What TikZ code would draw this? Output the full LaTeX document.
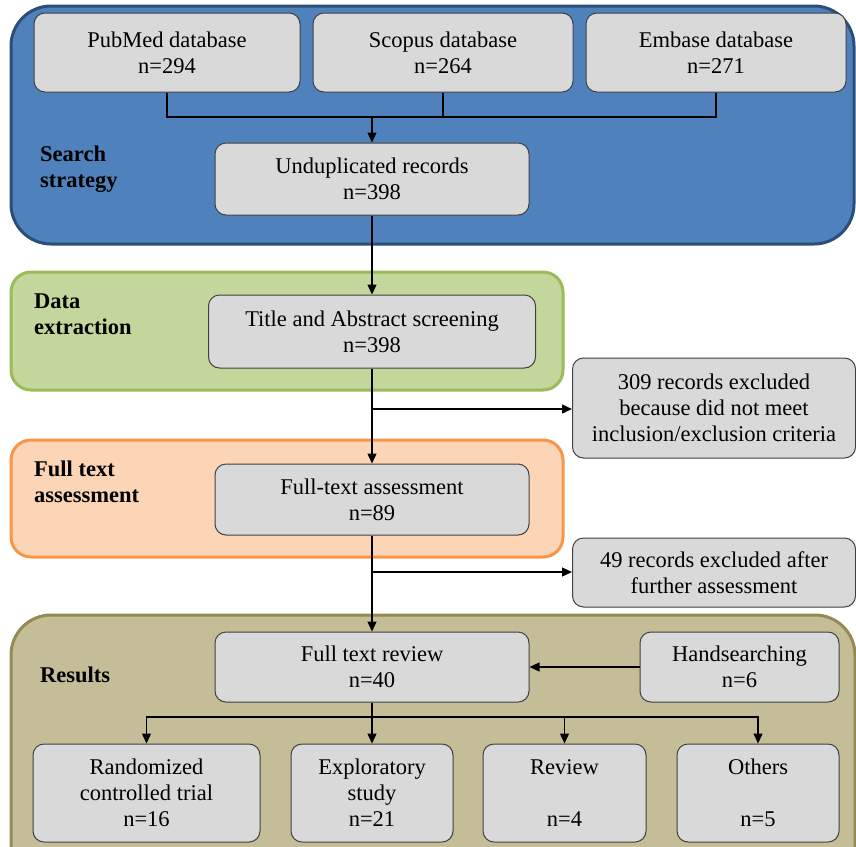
\documentclass[tikz,border=0pt]{standalone}
\usepackage{fontspec}
\IfFontExistsTF{LiberationSerif-Regular.ttf}{%
  \setmainfont{LiberationSerif}[Extension=.ttf,UprightFont=*-Regular,BoldFont=*-Bold,ItalicFont=*-Italic,BoldItalicFont=*-BoldItalic]}{%
  \setmainfont{Liberation Serif}}
\usetikzlibrary{arrows.meta}
\definecolor{bluefill}{HTML}{4F81BD}
\definecolor{blueline}{HTML}{2C4D75}
\definecolor{greenfill}{HTML}{C3D69B}
\definecolor{greenline}{HTML}{9BBB59}
\definecolor{orangefill}{HTML}{FBD5B5}
\definecolor{orangeline}{HTML}{F79646}
\definecolor{olivefill}{HTML}{C4BD97}
\definecolor{oliveline}{HTML}{948A54}
\definecolor{boxfill}{HTML}{D9D9D9}
\definecolor{boxline}{HTML}{404040}
\tikzset{
  panel/.style={line width=3pt},
  box/.style={draw=boxline, fill=boxfill, line width=1pt, rounded corners=11pt,
    align=center, inner sep=0pt, font=\rmfamily\fontsize{22.5}{26}\selectfont},
  lab/.style={anchor=west, align=left, inner sep=0pt, font=\rmfamily\fontsize{22.5}{26}\selectfont\bfseries},
  conn/.style={line width=1.3pt, draw=black},
  arr/.style={conn, -{Triangle[length=10pt,width=9pt]}}
}
\begin{document}
\begin{tikzpicture}[x=1pt,y=-1pt]
\clip (0,0) rectangle (856,846);
\useasboundingbox (0,0) rectangle (856,846);
% panels
\draw[panel, draw=blueline, fill=bluefill, rounded corners=40pt] (11,6) rectangle (854,244);
\draw[panel, draw=greenline, fill=greenfill, rounded corners=20pt] (11,272) rectangle (563,390);
\draw[panel, draw=orangeline, fill=orangefill, rounded corners=20pt] (11,440) rectangle (563,557);
\draw[panel, draw=oliveline, fill=olivefill, rounded corners=40pt] (11,615) rectangle (855,890);
% labels
\node[lab] (l1) at (40,169) {Search\\strategy};
\node[lab] (l2) at (34,314) {Data\\extraction};
\node[lab] (l3) at (34,482) {Full text\\assessment};
\node[lab] (l4) at (40,675) {Results};
% boxes
\node[box, minimum width=266pt, minimum height=79pt] (pub) at (167,52.5) {PubMed database\\n=294};
\node[box, minimum width=260pt, minimum height=79pt] (sco) at (443,52.5) {Scopus database\\n=264};
\node[box, minimum width=260pt, minimum height=79pt] (emb) at (716,52.5) {Embase database\\n=271};
\node[box, minimum width=314pt, minimum height=72pt] (und) at (372,179) {Unduplicated records\\n=398};
\node[box, minimum width=327pt, minimum height=73pt] (tit) at (372,331.5) {Title and Abstract screening\\n=398};
\node[box, minimum width=283pt, minimum height=100pt] (ex1) at (714,408) {309 records excluded\\because did not meet\\inclusion/exclusion criteria};
\node[box, minimum width=314pt, minimum height=71pt] (fta) at (372,499.5) {Full-text assessment\\n=89};
\node[box, minimum width=283pt, minimum height=69pt] (ex2) at (714,572.5) {49 records excluded after\\further assessment};
\node[box, minimum width=314pt, minimum height=70pt] (ftr) at (372,667) {Full text review\\n=40};
\node[box, minimum width=199pt, minimum height=70pt] (hand) at (739.5,667) {Handsearching\\n=6};
\node[box, minimum width=227pt, minimum height=98pt] (rct) at (146.5,793) {Randomized\\controlled trial\\n=16};
\node[box, minimum width=162pt, minimum height=98pt] (exp) at (372,793) {Exploratory\\study\\n=21};
\node[box, minimum width=163pt, minimum height=98pt] (rev) at (564.5,793) {Review\\\mbox{}\\n=4};
\node[box, minimum width=162pt, minimum height=98pt] (oth) at (758,793) {Others\\\mbox{}\\n=5};
% connectors
\coordinate (j1) at (372,117);
\draw[conn] (pub.south) |- (j1);
\draw[conn] (emb.south) |- (j1);
\draw[conn] (sco.south) -- (sco.south |- j1);
\draw[arr] (j1) -- (und.north);
\draw[arr] (und.south) -- (tit.north);
\draw[arr] (tit.south) -- (fta.north);
\coordinate (b1) at (372,409);
\draw[arr] (b1) -- (b1 -| ex1.west);
\draw[arr] (fta.south) -- (ftr.north);
\coordinate (b2) at (372,572);
\draw[arr] (b2) -- (b2 -| ex2.west);
\draw[arr] (hand.west) -- (ftr.east);
\coordinate (br) at (372,717);
\draw[arr] (ftr.south) -- (exp.north);
\draw[arr] (br) -| (rct.north);
\draw[arr] (br) -| (rev.north);
\draw[arr] (br) -| (oth.north);
\end{tikzpicture}
\end{document}
